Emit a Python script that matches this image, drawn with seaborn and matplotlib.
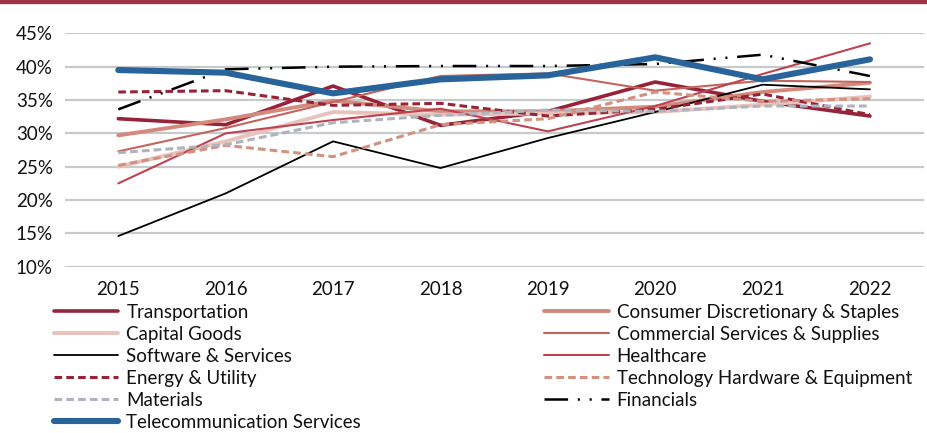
import matplotlib
matplotlib.use("Agg")
import matplotlib.pyplot as plt
import seaborn as sns
import pandas as pd
from matplotlib.lines import Line2D
from matplotlib.patches import Rectangle
from matplotlib.ticker import FuncFormatter

sns.set_theme(style="white")
plt.rcParams["font.family"] = ["Lato", "DejaVu Sans"]
plt.rcParams["lines.scale_dashes"] = False

years = [2015, 2016, 2017, 2018, 2019, 2020, 2021, 2022]

transportation = [32.2, 31.3, 37.1, 31.2, 33.3, 37.7, 34.8, 32.6]
consumer_disc = [29.7, 32.1, 34.9, 33.3, 33.3, 34.0, 36.2, 37.6]
capital_goods = [25.0, 28.8, 33.2, 32.8, 33.0, 33.2, 34.3, 35.5]
commercial_services = [27.3, 30.8, 34.7, 38.6, 39.0, 36.4, 37.9, 37.7]
software_services = [14.6, 21.0, 28.8, 24.8, 29.3, 33.2, 37.3, 36.6]
healthcare = [22.5, 30.0, 32.0, 33.7, 30.3, 34.1, 38.9, 43.5]
energy_utility = [36.2, 36.4, 34.2, 34.5, 32.6, 33.6, 35.9, 32.8]
tech_hardware = [25.2, 28.2, 26.5, 31.3, 32.2, 36.2, 34.8, 35.2]
materials = [27.1, 28.3, 31.6, 32.7, 33.5, 33.3, 34.1, 34.1]
financials = [33.6, 39.6, 40.0, 40.1, 40.1, 40.4, 41.8, 38.6]
telecom = [39.5, 39.1, 36.0, 38.1, 38.7, 41.4, 38.1, 41.1]

series = [
    ("Transportation", transportation, "#962338", 2.6, "-"),
    ("Consumer Discretionary & Staples", consumer_disc, "#d38a7d", 2.8, "-"),
    ("Capital Goods", capital_goods, "#e9c3bb", 2.8, "-"),
    ("Commercial Services & Supplies", commercial_services, "#c2655d", 1.5, "-"),
    ("Software & Services", software_services, "#000000", 1.3, "-"),
    ("Healthcare", healthcare, "#bc4452", 1.5, "-"),
    ("Energy & Utility", energy_utility, "#962338", 2.2, (0, (5.5, 3.0))),
    ("Technology Hardware & Equipment", tech_hardware, "#d3917f", 2.2, (0, (5.5, 3.0))),
    ("Materials", materials, "#aeb3bf", 2.2, (0, (5.5, 3.0))),
    ("Financials", financials, "#000000", 1.8, (0, (17, 7, 1.5, 7, 1.5, 7))),
    ("Telecommunication Services", telecom, "#28649a", 4.4, "-"),
]

fig = plt.figure(figsize=(9.27, 4.33), dpi=100)
ax = fig.add_axes([0.0697, 0.384, 0.9267, 0.539])

handles = {}
for name, vals, color, lw, ls in series:
    df = pd.DataFrame({"year": years, "value": vals})
    sns.lineplot(data=df, x="year", y="value", ax=ax, color=color,
                 linewidth=lw, linestyle=ls, solid_capstyle="round",
                 dash_capstyle="butt", legend=False)
    handles[name] = Line2D([0], [0], color=color, lw=lw, linestyle=ls,
                           solid_capstyle="round")

ax.set_xlim(2014.5, 2022.5)
ax.set_ylim(10, 45)
ax.set_yticks(range(10, 46, 5))
ax.set_xticks(years)
ax.yaxis.set_major_formatter(FuncFormatter(lambda v, p: f"{int(v)}%"))
ax.grid(axis="y", color="#c8c9cb", linewidth=1.6)
ax.grid(axis="x", visible=False)
ax.set_axisbelow(True)
for side in ["top", "right", "left", "bottom"]:
    ax.spines[side].set_visible(False)
ax.set_xlabel("")
ax.set_ylabel("")
ax.tick_params(axis="y", length=0, pad=8.5, labelsize=13.5, labelcolor="#111111")
ax.tick_params(axis="x", length=0, pad=10, labelsize=13.5, labelcolor="#111111")

left_names = ["Transportation", "Capital Goods", "Software & Services",
              "Energy & Utility", "Materials", "Telecommunication Services"]
right_names = ["Consumer Discretionary & Staples", "Commercial Services & Supplies",
               "Healthcare", "Technology Hardware & Equipment", "Financials"]

leg_kw = dict(frameon=False, fontsize=13.5, handlelength=3.45, handletextpad=0.42,
              labelspacing=0.265, borderaxespad=0, borderpad=0,
              labelcolor="#111111")
leg1 = fig.legend([handles[n] for n in left_names], left_names,
                  loc="upper left", bbox_to_anchor=(0.058, 0.298), **leg_kw)
leg2 = fig.legend([handles[n] for n in right_names], right_names,
                  loc="upper left", bbox_to_anchor=(0.587, 0.298), **leg_kw)

fig.patches.append(Rectangle((0, 0.993), 1, 0.007, transform=fig.transFigure,
                             color="#9c3446", zorder=10))

fig.savefig("out.png", dpi=100)
